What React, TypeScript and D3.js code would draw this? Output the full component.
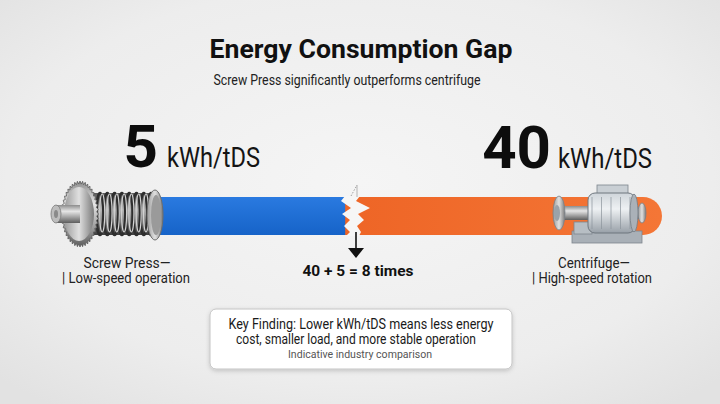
import React, { useEffect } from 'react';
import * as d3 from 'd3';

// chart data
const machines = ['Screw Press', 'Centrifuge'];
const energyValues = [5, 40];
const unitLabel = 'kWh/tDS';
const modeLabels = ['Low-speed operation', 'High-speed rotation'];
const titleText = 'Energy Consumption Gap';
const subtitleText = 'Screw Press significantly outperforms centrifuge';
const findingLines = [
  'Key Finding: Lower kWh/tDS means less energy',
  'cost, smaller load, and more stable operation',
];
const noteText = 'Indicative industry comparison';

const W = 720;
const H = 404;
const FONT = 'Roboto, "Liberation Sans", sans-serif';

// log scale: the bar shows how far apart the two values sit
const x = d3.scaleLog().domain([1, d3.max(energyValues)!]).range([100, 662]);
const barTop = 197;
const barH = 38;

const Gear: React.FC<{ cx: number; cy: number }> = ({ cx, cy }) => {
  const teeth = 44;
  const pts = d3.range(teeth * 2).map(i => {
    const a = (i / (teeth * 2)) * Math.PI * 2;
    const r = i % 2 === 0 ? 33 : 30;
    return [cx + Math.cos(a) * r * 0.56, cy + Math.sin(a) * r];
  });
  const threads = d3.range(8).map(i => 100 + i * 7.3);
  return (
    <g>
      {/* screw cylinder */}
      <rect x={cx} y={cy - 21} width={76} height={42} fill="url(#steelDark)" />
      {threads.map((tx, i) => (
        <ellipse key={i} cx={tx} cy={cy} rx={3.5} ry={21} fill="none" stroke="#2e2e2e" strokeWidth={2.6} />
      ))}
      {threads.map((tx, i) => (
        <ellipse key={'h' + i} cx={tx + 2.2} cy={cy - 1} rx={2.5} ry={19} fill="none" stroke="#d2d2d2" strokeWidth={1.1} />
      ))}
      {/* end flange */}
      <ellipse cx={155} cy={cy + 1} rx={8} ry={25} fill="url(#steelH)" stroke="#6d6d6d" strokeWidth={1} />
      <ellipse cx={156} cy={cy + 1} rx={5} ry={20} fill="#9a9a9a" />
      {/* gear disk */}
      <polygon points={pts.map(p => p.join(',')).join(' ')} fill="url(#steelV)" stroke="#5c5c5c" strokeWidth={0.8} />
      <ellipse cx={cx - 1} cy={cy} rx={15} ry={27} fill="url(#steelH)" />
      {/* hub and shaft */}
      <rect x={cx - 24} y={cy - 9} width={24} height={18} fill="url(#steelV)" />
      <ellipse cx={cx - 24} cy={cy} rx={5} ry={9} fill="#bdbdbd" stroke="#7a7a7a" strokeWidth={0.8} />
      <ellipse cx={cx - 24} cy={cy} rx={2} ry={4} fill="#8a8a8a" />
    </g>
  );
};

const Centrifuge: React.FC = () => (
  <g>
    {/* base */}
    <rect x={572} y={231} width={70} height={12} fill="#a9b0b7" stroke="#7d858d" strokeWidth={0.8} />
    <rect x={574} y={222} width={18} height={12} fill="#b7bec4" stroke="#7d858d" strokeWidth={0.8} />
    {/* shaft */}
    <rect x={558} y={206} width={34} height={14} fill="url(#steelV)" />
    <ellipse cx={559} cy={213} rx={6} ry={17} fill="url(#steelH)" stroke="#7a828a" strokeWidth={0.8} />
    <ellipse cx={557} cy={213} rx={3} ry={8} fill="#9aa2aa" />
    {/* right shaft & flange */}
    <rect x={632} y={207} width={10} height={12} fill="url(#steelV)" />
    <ellipse cx={642} cy={213} rx={4} ry={10} fill="url(#steelH)" stroke="#7a828a" strokeWidth={0.8} />
    {/* top box */}
    <rect x={597} y={185} width={31} height={11} fill="#c9cfd4" stroke="#7d858d" strokeWidth={0.8} />
    {/* main body */}
    <rect x={588} y={193} width={47} height={40} rx={7} fill="url(#steelV2)" stroke="#6f777f" strokeWidth={1} />
    {d3.range(5).map(i => (
      <line key={i} x1={592 + i * 9.5} x2={592 + i * 9.5} y1={197} y2={229} stroke="#8b939b" strokeWidth={0.7} />
    ))}
    <ellipse cx={634} cy={213} rx={4} ry={19} fill="#aab1b8" stroke="#737b83" strokeWidth={0.8} />
  </g>
);

const App: React.FC = () => {
  useEffect(() => {
    document.body.style.margin = '0';
  }, []);

  const xBreak = x(energyValues[0]);
  const xEnd = x(energyValues[1]);
  const r = barH / 2;
  const yMid = barTop + r;

  // white crack between the two segments
  const crackLeft = [[345, 196], [341, 201], [351, 208], [342, 214], [350, 220], [344, 226], [350, 232], [346, 236]];
  const crackRight = [[360, 196], [356, 201], [370, 208], [358, 214], [364, 220], [357, 226], [361, 232], [359, 236]];
  const crack = crackLeft.concat(crackRight.slice().reverse()).map(p => p.join(',')).join(' ');

  const orangePath = `M${xBreak},${barTop} H${xEnd - r} A${r},${r} 0 0 1 ${xEnd - r},${barTop + barH} H${xBreak} Z`;

  return (
    <svg width={W} height={H} style={{ display: 'block' }} fontFamily={FONT}>
      <defs>
        <radialGradient id="bg" cx="50%" cy="45%" r="70%">
          <stop offset="0%" stopColor="#f5f5f5" />
          <stop offset="70%" stopColor="#ededed" />
          <stop offset="100%" stopColor="#e2e2e2" />
        </radialGradient>
        <linearGradient id="blue" x1="0" y1="0" x2="0" y2="1">
          <stop offset="0%" stopColor="#2a7ae0" />
          <stop offset="100%" stopColor="#1663c8" />
        </linearGradient>
        <linearGradient id="orange" x1="0" y1="0" x2="1" y2="0">
          <stop offset="0%" stopColor="#ee6526" />
          <stop offset="100%" stopColor="#f47636" />
        </linearGradient>
        <linearGradient id="steelV" x1="0" y1="0" x2="0" y2="1">
          <stop offset="0%" stopColor="#8c8c8c" />
          <stop offset="35%" stopColor="#e6e6e6" />
          <stop offset="65%" stopColor="#a8a8a8" />
          <stop offset="100%" stopColor="#5e5e5e" />
        </linearGradient>
        <linearGradient id="steelDark" x1="0" y1="0" x2="0" y2="1">
          <stop offset="0%" stopColor="#5a5a5a" />
          <stop offset="40%" stopColor="#b5b5b5" />
          <stop offset="70%" stopColor="#7a7a7a" />
          <stop offset="100%" stopColor="#3e3e3e" />
        </linearGradient>
        <linearGradient id="steelV2" x1="0" y1="0" x2="0" y2="1">
          <stop offset="0%" stopColor="#cfd5da" />
          <stop offset="40%" stopColor="#eef1f3" />
          <stop offset="100%" stopColor="#98a0a8" />
        </linearGradient>
        <linearGradient id="steelH" x1="0" y1="0" x2="1" y2="0">
          <stop offset="0%" stopColor="#9a9a9a" />
          <stop offset="50%" stopColor="#e0e0e0" />
          <stop offset="100%" stopColor="#7a7a7a" />
        </linearGradient>
        <filter id="shadow" x="-10%" y="-20%" width="120%" height="150%">
          <feDropShadow dx="0" dy="1.5" stdDeviation="2" floodColor="#000" floodOpacity="0.18" />
        </filter>
      </defs>

      <rect width={W} height={H} fill="url(#bg)" />

      {/* titles */}
      <text x={361} y={58} textAnchor="middle" fontSize={25} fontWeight={700} fill="#111" textLength={303} lengthAdjust="spacingAndGlyphs">
        {titleText}
      </text>
      <text x={347} y={85} textAnchor="middle" fontSize={14} fill="#222" textLength={267} lengthAdjust="spacingAndGlyphs">
        {subtitleText}
      </text>

      {/* value labels */}
      <text x={158} y={167} textAnchor="end" fontSize={60} fontWeight={700} fill="#0d0d0d">{energyValues[0]}</text>
      <text x={167} y={167} fontSize={28} fill="#141414" textLength={93} lengthAdjust="spacingAndGlyphs">{unitLabel}</text>
      <text x={551} y={168} textAnchor="end" fontSize={60} fontWeight={700} fill="#0d0d0d">{energyValues[1]}</text>
      <text x={558} y={168} fontSize={28} fill="#141414" textLength={94} lengthAdjust="spacingAndGlyphs">{unitLabel}</text>

      {/* bar */}
      <rect x={x(1)} y={barTop} width={xBreak + 8 - x(1)} height={barH} fill="url(#blue)" />
      <path d={orangePath} fill="url(#orange)" />
      <polygon points={crack} fill="#f6f6f6" />
      <line x1={351} y1={196} x2={357} y2={185} stroke="#8a8a8a" strokeWidth={0.8} strokeDasharray="1.5,1.5" />
      <line x1={357} y1={185} x2={357} y2={197} stroke="#9a9a9a" strokeWidth={0.7} />

      {/* arrow to ratio */}
      <line x1={356} y1={232} x2={356} y2={249} stroke="#111" strokeWidth={1.6} />
      <polygon points="348,248 364,248 356,258" fill="#111" />
      <text x={358} y={276} textAnchor="middle" fontSize={15} fontWeight={700} fill="#111" textLength={111} lengthAdjust="spacingAndGlyphs">
        {`${energyValues[1]} + ${energyValues[0]} = ${energyValues[1] / energyValues[0]} times`}
      </text>

      {/* machines */}
      <Gear cx={80} cy={yMid - 2} />
      <Centrifuge />

      {/* machine labels */}
      <text x={127} y={268} textAnchor="middle" fontSize={14} fill="#222" textLength={87} lengthAdjust="spacingAndGlyphs">{`${machines[0]}—`}</text>
      <text x={62} y={283} fontSize={14} fill="#222" textLength={128} lengthAdjust="spacingAndGlyphs">{`| ${modeLabels[0]}`}</text>
      <text x={594} y={268} textAnchor="middle" fontSize={14} fill="#222" textLength={72} lengthAdjust="spacingAndGlyphs">{`${machines[1]}—`}</text>
      <text x={532} y={283} fontSize={14} fill="#222" textLength={120} lengthAdjust="spacingAndGlyphs">{`| ${modeLabels[1]}`}</text>

      {/* key finding box */}
      <rect x={210} y={309} width={302} height={60} rx={6} fill="#fff" stroke="#c4c4c4" strokeWidth={1} filter="url(#shadow)" />
      <text x={361} y={329} textAnchor="middle" fontSize={14} fill="#1a1a1a" textLength={265} lengthAdjust="spacingAndGlyphs">{findingLines[0]}</text>
      <text x={356} y={344} textAnchor="middle" fontSize={14} fill="#1a1a1a" textLength={240} lengthAdjust="spacingAndGlyphs">{findingLines[1]}</text>
      <text x={360} y={358} textAnchor="middle" fontSize={11.5} fill="#555" textLength={144} lengthAdjust="spacingAndGlyphs">{noteText}</text>
    </svg>
  );
};

export default App;
